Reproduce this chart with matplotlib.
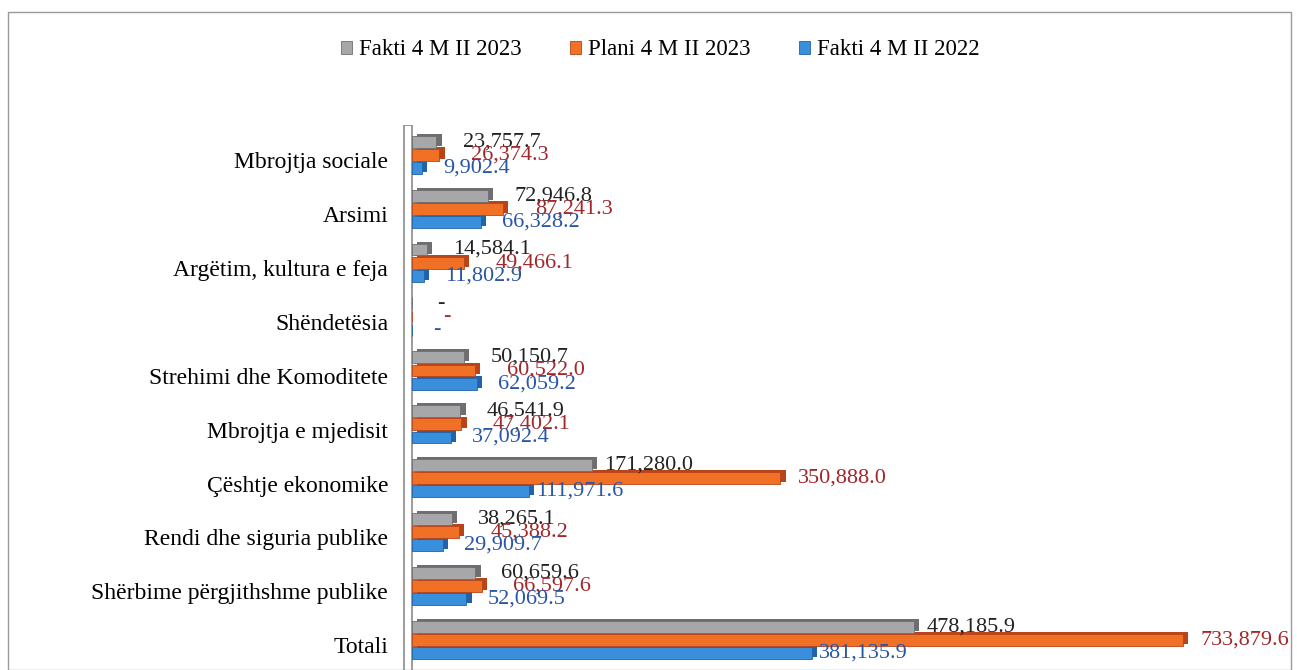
import matplotlib
matplotlib.use("Agg")
import matplotlib.pyplot as plt
from matplotlib.patches import Rectangle

plt.rcParams["font.family"] = ["Liberation Serif", "DejaVu Serif"]

# 上から順のカテゴリ (図の並び)
categories = [
    "Mbrojtja sociale",
    "Arsimi",
    "Argëtim, kultura e feja",
    "Shëndetësia",
    "Strehimi dhe Komoditete",
    "Mbrojtja e mjedisit",
    "Çështje ekonomike",
    "Rendi dhe siguria publike",
    "Shërbime përgjithshme publike",
    "Totali",
]
fakti_2023 = [23757.7, 72946.8, 14584.1, 0, 50150.7, 46541.9, 171280.0, 38265.1, 60659.6, 478185.9]
plani_2023 = [26374.3, 87241.3, 49466.1, 0, 60522.0, 47402.1, 350888.0, 45388.2, 66597.6, 733879.6]
fakti_2022 = [9902.4, 66328.2, 11802.9, 0, 62059.2, 37092.4, 111971.6, 29909.7, 52069.5, 381135.9]

# (名前, 値, 色, 濃い色, 文字色, 縦オフセット, ラベル間隔pt)
series = [
    ("Fakti 4 M II 2023", fakti_2023, "#a7a7a9", "#6e6e70", "#222222", 0.245, 5),
    ("Plani 4 M II 2023", plani_2023, "#f07026", "#b8441a", "#a3262a", 0.0, 9),
    ("Fakti 4 M II 2022", fakti_2022, "#3a8fdc", "#2063a8", "#2a55a6", -0.245, 1.5),
]


def fmt(v):
    return "-" if v == 0 else f"{v:,.1f}"


fig = plt.figure(figsize=(12.97, 6.70), dpi=100)
fig.patches.append(Rectangle((0.006, 0.0), 0.989, 0.982, transform=fig.transFigure,
                             fill=False, edgecolor="#9a9a9a", linewidth=1.0))
ax = fig.add_axes([0.310, 0.0, 0.675, 0.813])

n = len(categories)
ypos = [n - 1 - i for i in range(n)]
bh = 0.22
dx, dy = 5000, 0.035

for name, vals, col, dark, tcol, off, pad in series:
    ys = [y + 0.1 + off for y in ypos]
    # 奥行き (疑似3D)
    ax.barh([y + dy for y in ys], vals, height=bh, left=dx, color=dark, zorder=2)
    ax.barh(ys, vals, height=bh, color=col, edgecolor=dark, linewidth=0.6, zorder=3,
            label=name)
    for y, v in zip(ys, vals):
        ax.annotate(fmt(v), (v + dx, y), xytext=(pad + (10 if v < 100000 else 0), 0),
                    textcoords="offset points", va="center", ha="left",
                    fontsize=16, color=tcol, annotation_clip=False, zorder=5)

# 左側の壁
ax.add_patch(Rectangle((-7000, -0.5), 7000, 10.15, facecolor="white",
                       edgecolor="#8a8a8a", linewidth=1.2, zorder=1))

ax.set_xlim(-9000, 824000)
ax.set_ylim(-0.46, 9.65)
ax.set_yticks(ypos)
ax.set_yticklabels(categories, fontsize=17)
ax.tick_params(axis="y", length=0, pad=10)
ax.set_xticks([])
for s in ax.spines.values():
    s.set_visible(False)

fig.legend(loc="upper center", bbox_to_anchor=(0.509, 0.972), ncol=3, frameon=False,
           fontsize=16.5, handlelength=0.5, handleheight=0.5, handletextpad=0.3,
           columnspacing=2.1)

fig.savefig("out.png", dpi=100)
